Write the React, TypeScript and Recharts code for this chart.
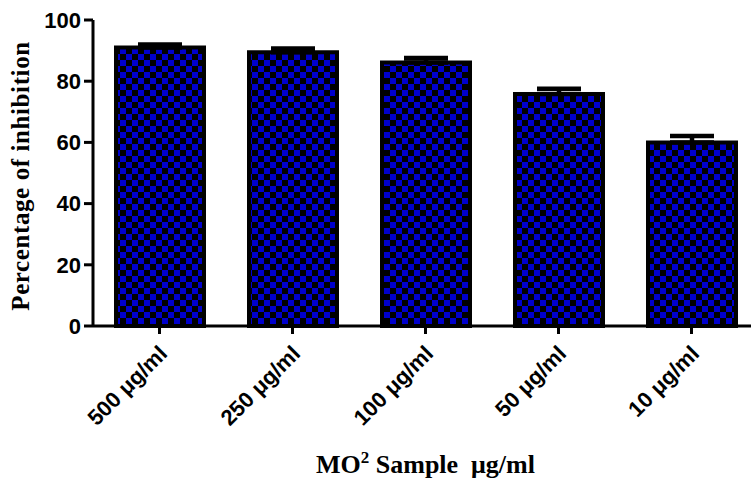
import React from "react";
import { BarChart, Bar, XAxis, YAxis, ErrorBar, Label } from "recharts";

const categories = ["500 μg/ml", "250 μg/ml", "100 μg/ml", "50 μg/ml", "10 μg/ml"];
const inhibition = [91.0, 89.5, 86.1, 75.8, 60.0];
const sem = [1.0, 1.2, 1.5, 1.7, 2.1];
const yTicks = [0, 20, 40, 60, 80, 100];

const data = categories.map((name, i) => ({
  name,
  value: inhibition[i],
  err: [0, sem[i]],
}));

const sans = "'Liberation Sans', Arial, sans-serif";
const serif = "'Liberation Serif', 'Times New Roman', serif";

const XTick = (props: any) => {
  const { x, y, payload } = props;
  return (
    <g transform={`translate(${x + 9},${y + 19})`}>
      <text
        transform="rotate(-45)"
        textAnchor="end"
        fontFamily={sans}
        fontWeight="bold"
        fontSize={22}
        fill="#000"
      >
        {payload.value}
      </text>
    </g>
  );
};

const YLabel = (props: any) => {
  const { viewBox } = props;
  const cx = viewBox.x + 20;
  const cy = viewBox.y + viewBox.height / 2 + 3;
  return (
    <text
      x={cx}
      y={cy}
      transform={`rotate(-90, ${cx}, ${cy})`}
      textAnchor="middle"
      dominantBaseline="central"
      fontFamily={serif}
      fontWeight="bold"
      fontSize={25}
      letterSpacing={0.6}
      fill="#000"
    >
      Percentage of inhibition
    </text>
  );
};

const XLabel = (props: any) => {
  const { viewBox } = props;
  const cx = viewBox.x + viewBox.width / 2;
  const cy = viewBox.y + viewBox.height - 7;
  return (
    <text
      x={cx}
      y={cy}
      textAnchor="middle"
      fontFamily={serif}
      fontWeight="bold"
      fontSize={26}
      fill="#000"
      style={{ whiteSpace: "pre" }}
    >
      <tspan>MO</tspan>
      <tspan dy={-10} fontSize={17}>2</tspan>
      <tspan dy={10}> Sample  μg/ml</tspan>
    </text>
  );
};

const App: React.FC = () => {
  return (
    <div
      style={{
        position: "absolute",
        left: 0,
        top: 0,
        width: 751,
        height: 480,
        overflow: "hidden",
        background: "#fff",
      }}
    >
      <BarChart
        width={766}
        height={480}
        data={data}
        margin={{ top: 20, right: 8, left: 0, bottom: 0 }}
        barCategoryGap={0}
      >
        <defs>
          <pattern id="checker" width={12} height={12} patternUnits="userSpaceOnUse">
            <rect width={12} height={12} fill="#000" />
            <rect width={6} height={6} fill="#0000cc" />
            <rect x={6} y={6} width={6} height={6} fill="#0000cc" />
          </pattern>
        </defs>
        <XAxis
          dataKey="name"
          height={154}
          interval={0}
          tick={<XTick />}
          tickSize={8}
          tickMargin={2}
          axisLine={{ stroke: "#000", strokeWidth: 3 }}
          tickLine={{ stroke: "#000", strokeWidth: 3 }}
        >
          <Label content={<XLabel />} />
        </XAxis>
        <YAxis
          width={93}
          domain={[0, 100]}
          ticks={yTicks}
          interval={0}
          tickSize={9}
          tickMargin={3}
          tick={{ fill: "#000", fontSize: 22, fontWeight: "bold", fontFamily: sans }}
          axisLine={{ stroke: "#000", strokeWidth: 3 }}
          tickLine={{ stroke: "#000", strokeWidth: 3 }}
        >
          <Label content={<YLabel />} />
        </YAxis>
        <Bar
          dataKey="value"
          fill="url(#checker)"
          stroke="#000"
          strokeWidth={4}
          barSize={88}
          isAnimationActive={false}
        >
          <ErrorBar
            dataKey="err"
            width={22}
            stroke="#000"
            strokeWidth={4.5}
            isAnimationActive={false}
          />
        </Bar>
      </BarChart>
    </div>
  );
};

export default App;
